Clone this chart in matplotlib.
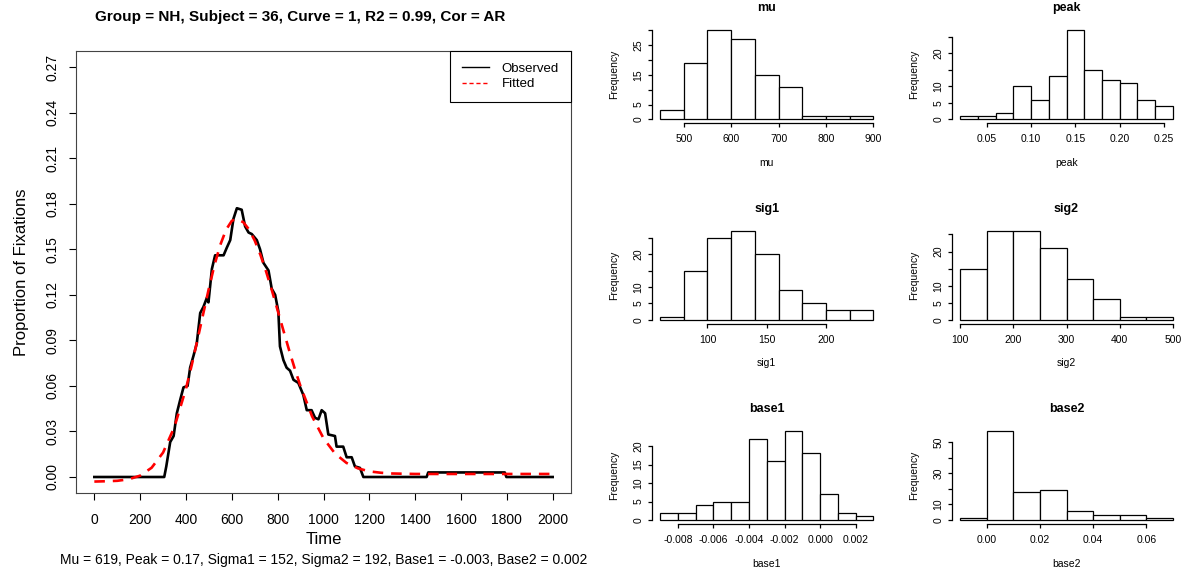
import matplotlib
matplotlib.use('Agg')
from matplotlib import pyplot as plt
from matplotlib import rc
from matplotlib.lines import Line2D

rc('font', family=['Liberation Sans', 'DejaVu Sans'])

# observed proportion of fixations
obs_time = [0, 305, 314, 331, 346, 360, 375, 389, 407, 418, 433, 447, 462, 476, 491, 498,
            513, 527, 564, 578, 593, 607, 622, 643, 658, 673, 687, 709, 723, 738, 760, 774,
            789, 803, 810, 825, 839, 854, 869, 890, 912, 927, 948, 963, 978, 992, 1007, 1021,
            1050, 1057, 1086, 1101, 1123, 1137, 1159, 1174, 1450, 1457, 1791, 1798, 2000]
obs_prop = [0, 0, 0.007, 0.023, 0.027, 0.042, 0.051, 0.059, 0.060, 0.072, 0.080, 0.088, 0.108,
            0.112, 0.118, 0.115, 0.137, 0.146, 0.146, 0.151, 0.156, 0.170, 0.177, 0.176, 0.165,
            0.161, 0.160, 0.156, 0.150, 0.141, 0.136, 0.124, 0.120, 0.109, 0.086, 0.077, 0.072,
            0.070, 0.064, 0.062, 0.054, 0.044, 0.044, 0.039, 0.038, 0.044, 0.042, 0.028, 0.027,
            0.020, 0.020, 0.013, 0.013, 0.007, 0.006, 0, 0, 0.003, 0.003, 0, 0]

# fitted curve
fit_time = [0, 50, 100, 150, 200, 250, 300, 350, 400, 425, 450, 475, 500, 525, 550, 575, 600,
            619, 650, 675, 700, 725, 750, 775, 800, 825, 850, 875, 900, 950, 1000, 1050, 1100,
            1150, 1200, 1250, 1300, 1400, 1500, 2000]
fit_prop = [-0.0030, -0.0028, -0.0025, -0.0015, 0.0009, 0.0061, 0.0161, 0.0332, 0.0583, 0.0737,
            0.0903, 0.1074, 0.1243, 0.1400, 0.1530, 0.1629, 0.1687, 0.1700, 0.1678, 0.1630,
            0.1557, 0.1462, 0.1351, 0.1228, 0.1097, 0.0965, 0.0835, 0.0711, 0.0596, 0.0400,
            0.0255, 0.0155, 0.0093, 0.0057, 0.0037, 0.0028, 0.0023, 0.0020, 0.0020, 0.0020]

main_title = "Group = NH, Subject = 36, Curve = 1, R2 = 0.99, Cor = AR"
sub_title = "Mu = 619, Peak = 0.17, Sigma1 = 152, Sigma2 = 192, Base1 = -0.003, Base2 = 0.002"

# bootstrap histograms
mu_edges = [450, 500, 550, 600, 650, 700, 750, 800, 850, 900]
mu_counts = [3, 19, 30, 27, 15, 11, 1, 1, 1]
mu_xticks = ['500', '600', '700', '800', '900']
mu_yticks = ['0', '5', '', '15', '', '25', '']

peak_edges = [0.02, 0.04, 0.06, 0.08, 0.10, 0.12, 0.14, 0.16, 0.18, 0.20, 0.22, 0.24, 0.26]
peak_counts = [1, 1, 2, 10, 6, 13, 27, 15, 12, 11, 6, 4]
peak_xticks = ['0.05', '0.10', '0.15', '0.20', '0.25']
peak_yticks = ['0', '5', '10', '', '20', '']

sig1_edges = [60, 80, 100, 120, 140, 160, 180, 200, 220, 240]
sig1_counts = [1, 15, 25, 27, 20, 9, 5, 3, 3]
sig1_xticks = ['100', '150', '200']
sig1_yticks = ['0', '5', '10', '', '20', '']

sig2_edges = [100, 150, 200, 250, 300, 350, 400, 450, 500]
sig2_counts = [15, 26, 26, 21, 12, 6, 1, 1]
sig2_xticks = ['100', '200', '300', '400', '500']
sig2_yticks = ['0', '5', '10', '', '20', '']

base1_edges = [-0.009, -0.008, -0.007, -0.006, -0.005, -0.004, -0.003, -0.002, -0.001, 0.0,
               0.001, 0.002, 0.003]
base1_counts = [2, 2, 4, 5, 5, 22, 16, 24, 18, 7, 2, 1]
base1_xticks = ['-0.008', '-0.006', '-0.004', '-0.002', '0.000', '0.002']
base1_yticks = ['0', '5', '10', '15', '20']

base2_edges = [-0.01, 0.0, 0.01, 0.02, 0.03, 0.04, 0.05, 0.06, 0.07]
base2_counts = [1, 57, 18, 19, 6, 3, 3, 1]
base2_xticks = ['0.00', '0.02', '0.04', '0.06']
base2_yticks = ['0', '10', '', '30', '', '50']

W, H = 1182, 572


def px_axes(fig, left, top, right, bottom):
    return fig.add_axes([left / W, 1 - bottom / H, (right - left) / W, (bottom - top) / H])


def hist_panel(fig, box, edges, counts, name, xtick_labels, ytick_labels, ystep):
    ax = px_axes(fig, *box)
    widths = [edges[i + 1] - edges[i] for i in range(len(counts))]
    ax.bar(edges[:-1], counts, width=widths, align='edge', facecolor='white',
           edgecolor='black', linewidth=0.9)
    span = edges[-1] - edges[0]
    ax.set_xlim(edges[0] - 0.04 * span, edges[-1] + 0.04 * span)
    top = max(counts)
    ax.set_ylim(-0.04 * top, 1.04 * top)

    xt = [float(s) for s in xtick_labels]
    yt = [i * ystep for i in range(len(ytick_labels))]
    ax.set_xticks(xt)
    ax.set_xticklabels(xtick_labels)
    ax.set_yticks(yt)
    ax.set_yticklabels(ytick_labels, rotation=90, va='center')

    for side in ['top', 'right']:
        ax.spines[side].set_visible(False)
    ax.spines['left'].set_bounds(yt[0], yt[-1])
    ax.spines['bottom'].set_bounds(xt[0], xt[-1])
    for side in ['left', 'bottom']:
        ax.spines[side].set_linewidth(0.9)
    ax.tick_params(direction='out', length=3, width=0.9, labelsize=7.5)
    ax.tick_params(axis='x', pad=5)
    ax.tick_params(axis='y', pad=3)

    ax.set_title(name, fontsize=9, fontweight='bold', pad=11)
    ax.set_xlabel(name, fontsize=7.5, labelpad=10)
    ax.set_ylabel("Frequency", fontsize=7.5, labelpad=10)
    return ax


fig = plt.figure(figsize=(W / 100, H / 100), dpi=100)

# main panel
ax = px_axes(fig, 76, 50.6, 571, 493.4)
ax.plot(obs_time, obs_prop, color='black', linewidth=1.9)
ax.plot(fit_time, fit_prop, color='red', linewidth=1.9, linestyle=(0, (4, 3)))
ax.set_xlim(-80, 2080)
ax.set_ylim(-0.0108, 0.2808)
ax.set_xticks(range(0, 2001, 200))
yt = [i * 0.03 for i in range(10)]
ax.set_yticks(yt)
ax.set_yticklabels(["%.2f" % v for v in yt], rotation=90, va='center')
ax.tick_params(direction='out', length=5, width=0.8, labelsize=10)
ax.tick_params(axis='x', pad=9)
ax.tick_params(axis='y', pad=7)
for s in ax.spines.values():
    s.set_linewidth(0.8)
    s.set_color('#444444')
ax.set_xlabel("Time", fontsize=12, labelpad=4)
ax.set_ylabel("Proportion of Fixations", fontsize=12, labelpad=12)
fig.text(300 / W, 1 - 17 / H, main_title, ha='center', va='center',
         fontsize=11, fontweight='bold')
fig.text((76 + 571) / 2 / W, 1 - 560 / H, sub_title, ha='center', va='center', fontsize=10)

handles = [Line2D([], [], color='black', linewidth=1),
           Line2D([], [], color='red', linewidth=1, linestyle=(0, (3, 2)))]
leg = ax.legend(handles, ["Observed", "Fitted"], loc='upper right', borderaxespad=0,
                fontsize=9.5, fancybox=False, framealpha=1, edgecolor='black',
                handlelength=2.0, handletextpad=1.0, borderpad=0.9, labelspacing=0.25)
leg.get_frame().set_linewidth(0.8)

# bootstrap histograms
c1 = (651.5, 882)
c2 = (951.7, 1181.3)
r1 = (26.5, 123)
r2 = (227.5, 323.5)
r3 = (427.7, 523.6)

hist_panel(fig, (c1[0], r1[0], c1[1], r1[1]), mu_edges, mu_counts, "mu", mu_xticks, mu_yticks, 5)
hist_panel(fig, (c2[0], r1[0], c2[1], r1[1]), peak_edges, peak_counts, "peak", peak_xticks,
           peak_yticks, 5)
hist_panel(fig, (c1[0], r2[0], c1[1], r2[1]), sig1_edges, sig1_counts, "sig1", sig1_xticks,
           sig1_yticks, 5)
hist_panel(fig, (c2[0], r2[0], c2[1], r2[1]), sig2_edges, sig2_counts, "sig2", sig2_xticks,
           sig2_yticks, 5)
hist_panel(fig, (c1[0], r3[0], c1[1], r3[1]), base1_edges, base1_counts, "base1", base1_xticks,
           base1_yticks, 5)
hist_panel(fig, (c2[0], r3[0], c2[1], r3[1]), base2_edges, base2_counts, "base2", base2_xticks,
           base2_yticks, 10)

fig.savefig("out.png", dpi=100)
